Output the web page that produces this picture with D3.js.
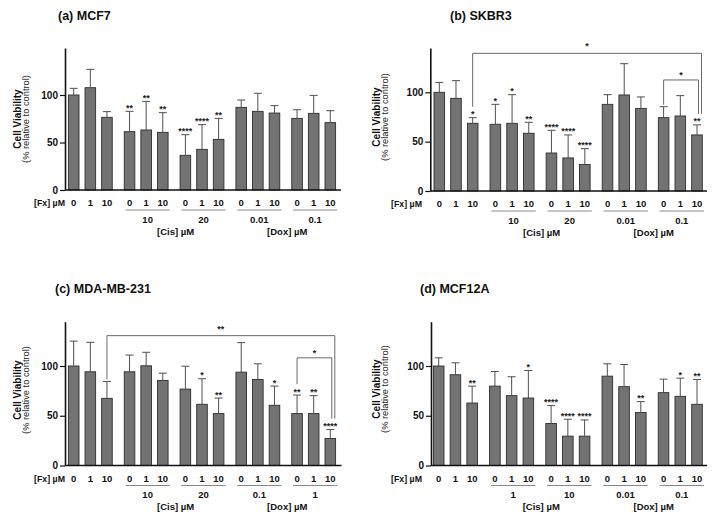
<!DOCTYPE html>
<html><head><meta charset="utf-8">
<script src="https://cdn.jsdelivr.net/npm/d3@7"></script>
<style>
html,body{margin:0;padding:0;background:#fff;}
text{font-family:"Liberation Sans",Arial,sans-serif;}
</style></head>
<body><div id="chart"></div>
<script>
// ---------- DATA ----------
const fxDoses = ["0", "1", "10"];
const fxUnit = "[Fx] µM";
const cisUnit = "[Cis] µM";
const doxUnit = "[Dox] µM";
const yTicks = [0, 50, 100];
const yLabel = "Cell Viability";
const ySubLabel = "(% relative to control)";

const titleA = "(a) MCF7";
const groupsA = ["", "10", "20", "0.01", "0.1"];
const meanA = [100, 107.7, 76.5, 61.4, 63.2, 60.7, 36.5, 42.8, 53.3, 87, 82.8, 81, 75.4, 80.7, 70.9];
const errA = [7, 19.3, 6, 21.4, 30.1, 20.7, 21.7, 26, 22.1, 7.7, 19, 7.8, 9.1, 18.9, 12.6];
const starsA = ["", "", "", "**", "**", "**", "****", "****", "**", "", "", "", "", "", ""];
const bracketsA = [];

const titleB = "(b) SKBR3";
const groupsB = ["", "10", "20", "0.01", "0.1"];
const meanB = [100, 93.9, 68.6, 67.6, 68.6, 58.5, 38.5, 33.5, 26.8, 87.8, 97.3, 83.7, 74.3, 76, 56.8];
const errB = [10, 17.9, 5.7, 20.2, 29, 11.1, 23, 23.3, 16.1, 9.8, 31.7, 11.6, 11.1, 20.6, 10.2];
const starsB = ["", "", "*", "*", "*", "**", "****", "****", "****", "", "", "", "", "", "**"];
const bracketsB = [
  {from: 2, to: 14, level: 139.5, label: "*"},
  {from: 12, to: 14, level: 112.5, label: "*"}
];

const titleC = "(c) MDA-MB-231";
const groupsC = ["", "10", "20", "0.1", "1"];
const meanC = [100, 94.2, 67.5, 94.2, 100.2, 85.5, 76.8, 61.5, 52.2, 93.8, 86.5, 60.5, 52.2, 52.2, 27.2];
const errC = [25, 29.6, 17, 16.8, 13.6, 7.3, 23, 25.7, 15.6, 29.7, 15.7, 19.3, 18.6, 18, 9];
const starsC = ["", "", "", "", "", "", "", "*", "**", "", "", "*", "**", "**", "****"];
const bracketsC = [
  {from: 2, to: 14, level: 130.5, label: "**"},
  {from: 12, to: 14, level: 108.2, label: "*"}
];

const titleD = "(d) MCF12A";
const groupsD = ["", "1", "10", "0.01", "0.1"];
const meanD = [100, 91.2, 62.8, 79.8, 70.2, 67.8, 42.2, 29.5, 29.5, 89.8, 79.2, 53.2, 73.2, 69.5, 61.5];
const errD = [8.2, 12, 17, 14.7, 19, 27.7, 18, 17, 16.3, 12.4, 22.3, 11, 13.6, 18.3, 25];
const starsD = ["", "", "**", "", "", "*", "****", "****", "****", "", "", "**", "", "*", "**"];
const bracketsD = [];

// ---------- LAYOUT ----------
const W = 714, H = 516;
const svg = d3.select("#chart").append("svg").attr("width", W).attr("height", H);
const FONT = '"Liberation Sans",Arial,sans-serif';

const panels = [
  {title: titleA, groups: groupsA, mean: meanA, err: errA, stars: starsA, brackets: bracketsA,
   L: {axisX: 65, y0: 190, y100: 95, yTop: 48, first: 73.7, last: 330.3, axisEnd: 341, titleX: 58, titleY: 20, fxX: 34, ylX: 21, ylX2: 29, ylY: 119}},
  {title: titleB, groups: groupsB, mean: meanB, err: errB, stars: starsB, brackets: bracketsB,
   L: {axisX: 430.3, y0: 191, y100: 92.3, yTop: 48, first: 439.3, last: 697, axisEnd: 707, titleX: 450, titleY: 20, fxX: 391, ylX: 379.5, ylX2: 387.5, ylY: 117}},
  {title: titleC, groups: groupsC, mean: meanC, err: errC, stars: starsC, brackets: bracketsC,
   L: {axisX: 65, y0: 465.5, y100: 366, yTop: 321.7, first: 73.7, last: 330.3, axisEnd: 341.5, titleX: 55, titleY: 293, fxX: 34, ylX: 21, ylX2: 29, ylY: 390}},
  {title: titleD, groups: groupsD, mean: meanD, err: errD, stars: starsD, brackets: bracketsD,
   L: {axisX: 431, y0: 465.5, y100: 366, yTop: 321.7, first: 438.7, last: 697, axisEnd: 707, titleX: 420, titleY: 293, fxX: 391, ylX: 379.5, ylX2: 387.5, ylY: 389}}
];

const groupRatio = 56 / 16.67;
const slot = i => Math.floor(i / 3) * groupRatio + (i % 3);
const barW = 10.6;

panels.forEach(p => {
  const L = p.L;
  const g = svg.append("g");
  const n = p.mean.length;
  const x = d3.scaleLinear().domain([slot(0), slot(n - 1)]).range([L.first, L.last]);
  const y0s = d3.scaleLinear().domain([0, 100]).range([L.y0, L.y100]);
  const yMax = y0s.invert(L.yTop);
  const y = d3.scaleLinear().domain([0, yMax]).range([L.y0, L.yTop]);

  // title
  g.append("text").attr("x", L.titleX).attr("y", L.titleY)
    .attr("font-size", 12.5).attr("font-weight", "bold").attr("fill", "#111").text(p.title);

  // y labels
  g.append("text").attr("transform", `translate(${L.ylX},${L.ylY}) rotate(-90)`)
    .attr("text-anchor", "middle").attr("font-size", 10).attr("font-weight", "bold").attr("fill", "#111").text(yLabel);
  g.append("text").attr("transform", `translate(${L.ylX2},${L.ylY}) rotate(-90)`)
    .attr("text-anchor", "middle").attr("font-size", 9.3).attr("fill", "#222").text(ySubLabel);

  // bars
  const idx = d3.range(n);
  g.selectAll("rect.bar").data(idx).join("rect")
    .attr("x", i => x(slot(i)) - barW / 2)
    .attr("y", i => y(p.mean[i]))
    .attr("width", barW)
    .attr("height", i => y(0) - y(p.mean[i]))
    .attr("fill", "#737373").attr("stroke", "#2e2e2e").attr("stroke-width", 0.9);

  // error bars
  const eg = g.append("g").attr("stroke", "#505050").attr("stroke-width", 1);
  idx.forEach(i => {
    const cx = x(slot(i));
    const yt = y(p.mean[i] + p.err[i]);
    eg.append("line").attr("x1", cx).attr("x2", cx).attr("y1", y(p.mean[i])).attr("y2", yt);
    eg.append("line").attr("x1", cx - 4).attr("x2", cx + 4).attr("y1", yt).attr("y2", yt);
  });

  // stars
  idx.forEach(i => {
    if (!p.stars[i]) return;
    g.append("text").attr("x", x(slot(i))).attr("y", y(p.mean[i] + p.err[i]) - 0.5)
      .attr("text-anchor", "middle").attr("font-size", 9).attr("font-weight", "bold").attr("fill", "#222")
      .text(p.stars[i]);
  });

  // brackets
  p.brackets.forEach(b => {
    const nested = p.brackets.some(o => o !== b && o.to === b.to && (o.to - o.from) < (b.to - b.from));
    const xl = x(slot(b.from)), xr = x(slot(b.to)) + (nested ? 4.5 : 1.5);
    const legY = i => y(p.mean[i] + p.err[i]) - (p.stars[i] ? 11 : 2);
    const yl = y(b.level);
    g.append("path")
      .attr("d", `M${xl},${legY(b.from)}V${yl}H${xr}V${legY(b.to)}`)
      .attr("fill", "none").attr("stroke", "#6a6a6a").attr("stroke-width", 1);
    g.append("text").attr("x", (xl + xr) / 2).attr("y", yl - (nested ? 4 : 1.5))
      .attr("text-anchor", "middle").attr("font-size", 9).attr("font-weight", "bold").attr("fill", "#222").text(b.label);
  });

  // y axis
  const ya = g.append("g").attr("transform", `translate(${L.axisX},0)`)
    .call(d3.axisLeft(y).tickValues(yTicks).tickSize(5).tickPadding(2).tickSizeOuter(0));
  ya.select(".domain").attr("stroke", "#111").attr("stroke-width", 1.6);
  ya.selectAll(".tick line").attr("stroke", "#111").attr("stroke-width", 1.2);
  ya.selectAll(".tick text").attr("font-family", FONT).attr("font-size", 10).attr("font-weight", "bold").attr("fill", "#111");

  // x axis line
  g.append("line").attr("x1", L.axisX).attr("x2", L.axisEnd).attr("y1", y(0)).attr("y2", y(0))
    .attr("stroke", "#111").attr("stroke-width", 1.6);

  // x tick labels
  const ty = y(0) + 16;
  g.append("text").attr("x", L.fxX).attr("y", ty).attr("font-size", 8.8).attr("font-weight", "bold").attr("fill", "#111").text(fxUnit);
  idx.forEach(i => {
    g.append("text").attr("x", x(slot(i))).attr("y", ty).attr("text-anchor", "middle")
      .attr("font-size", 9.5).attr("font-weight", "bold").attr("fill", "#111").text(fxDoses[i % 3]);
  });

  // group underlines and labels
  const gx = [];
  p.groups.forEach((lab, gi) => {
    const a = x(slot(gi * 3)) - 4, bb = x(slot(gi * 3 + 2)) + 7;
    gx.push((a + bb) / 2);
    if (!lab) return;
    g.append("line").attr("x1", a).attr("x2", bb).attr("y1", y(0) + 20).attr("y2", y(0) + 20)
      .attr("stroke", "#8a8a8a").attr("stroke-width", 1);
    g.append("text").attr("x", (a + bb) / 2).attr("y", y(0) + 32.5).attr("text-anchor", "middle")
      .attr("font-size", 9.5).attr("font-weight", "bold").attr("fill", "#111").text(lab);
  });
  g.append("text").attr("x", (gx[1] + gx[2]) / 2).attr("y", y(0) + 44.5).attr("text-anchor", "middle")
    .attr("font-size", 9.5).attr("font-weight", "bold").attr("fill", "#111").text(cisUnit);
  g.append("text").attr("x", (gx[3] + gx[4]) / 2).attr("y", y(0) + 44.5).attr("text-anchor", "middle")
    .attr("font-size", 9.5).attr("font-weight", "bold").attr("fill", "#111").text(doxUnit);
});
</script>
</body></html>
